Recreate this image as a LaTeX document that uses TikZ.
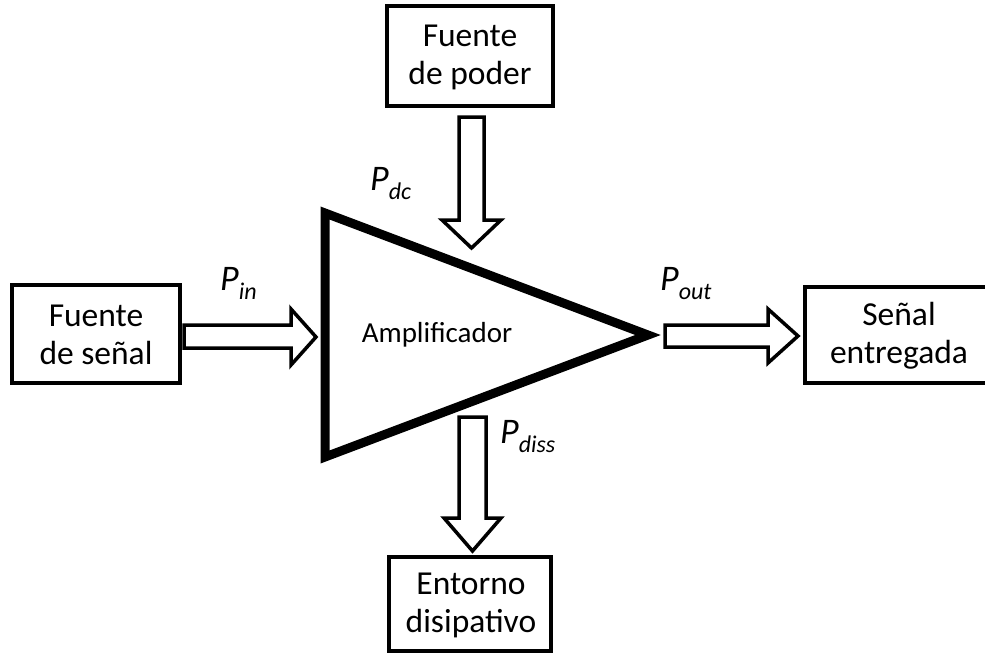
\documentclass[tikz,border=0pt]{standalone}
\usepackage{fontspec}
\setmainfont{Carlito}
\newcommand{\plab}[1]{{\fontsize{36}{36}\selectfont\itshape P}\raisebox{-9pt}{\fontsize{24}{24}\selectfont\itshape #1}}
\begin{document}
\begin{tikzpicture}[x=1pt,y=-1pt,
  blockbox/.style={draw=black,line width=4pt,fill=white},
  boxtext/.style={font=\fontsize{33.5}{38}\selectfont,align=center},
  fatarrow/.style={draw=black,line width=3.5pt,fill=white,line join=miter},
  amp/.style={draw=black,line width=9pt,line join=miter}]
\useasboundingbox (0,0) rectangle (985,657);
\fill[white] (0,0) rectangle (985,657);
% amplifier triangle
\draw[amp] (325,213) -- (648,335) -- (325,457) -- cycle;
\node[font=\fontsize{29}{29}\selectfont] (ampl) at (437,335) {Amplificador};
% boxes
\draw[blockbox] (387,6) rectangle (553,106);
\node[boxtext] (pwr) at (470,57) {Fuente\\de poder};
\draw[blockbox] (12,285) rectangle (180,383);
\node[boxtext] (src) at (96,335) {Fuente\\de señal};
\draw[blockbox] (805,287) rectangle (995,383);
\node[boxtext] (out) at (899,336) {Señal\\entregada};
\draw[blockbox] (389,557) rectangle (551,651);
\node[boxtext] (env) at (471,605) {Entorno\\disipativo};
% block arrows
% top (down)
\draw[fatarrow] (459,117) -- (484,117) -- (484,220) -- (501,220) -- (471.5,248) -- (442,220) -- (459,220) -- cycle;
% bottom (down)
\draw[fatarrow] (459,417) -- (486,417) -- (486,518) -- (501,518) -- (472.5,551) -- (444,518) -- (459,518) -- cycle;
% left (right)
\draw[fatarrow] (184,325) -- (291,325) -- (291,309) -- (316,337) -- (291,365) -- (291,348) -- (184,348) -- cycle;
% right (right)
\draw[fatarrow] (665,325) -- (768,325) -- (768,309) -- (798,336) -- (768,363) -- (768,347) -- (665,347) -- cycle;
% labels
\node[anchor=base west,inner sep=0pt] (pdc) at (370,190) {\plab{dc}};
\node[anchor=base west,inner sep=0pt] (pin) at (220,290) {\plab{in}};
\node[anchor=base west,inner sep=0pt] (pout) at (660,290) {\plab{out}};
\node[anchor=base west,inner sep=0pt] (pdiss) at (500,443) {\plab{diss}};
\end{tikzpicture}
\end{document}
